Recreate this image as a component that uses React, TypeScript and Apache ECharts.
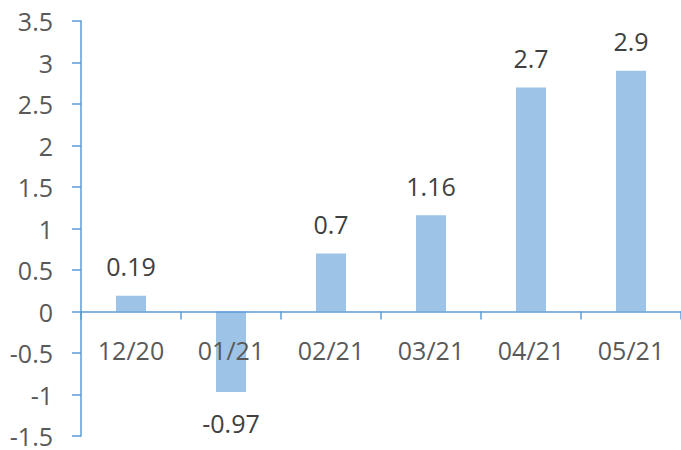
import React, { useEffect, useRef } from "react";
import * as echarts from "echarts";

const categories = ["12/20", "01/21", "02/21", "03/21", "04/21", "05/21"];
const values = [0.19, -0.97, 0.7, 1.16, 2.7, 2.9];
const yMin = -1.5;
const yMax = 3.5;
const yInterval = 0.5;

const GRID_TOP = 21;
const GRID_BOTTOM = 14;
const HEIGHT = 450;

export default function App() {
  const ref = useRef<HTMLDivElement>(null);
  useEffect(() => {
    document.body.style.margin = "0";
    const chart = echarts.init(ref.current!, null, { renderer: "svg" });
    const font = "'Open Sans', sans-serif";
    const plotH = HEIGHT - GRID_TOP - GRID_BOTTOM;
    // distance from grid bottom to zero line, derived from axis range
    const zeroFromBottom = ((0 - yMin) / (yMax - yMin)) * plotH;
    chart.setOption({
      animation: false,
      grid: { left: 81, right: 0, top: GRID_TOP, bottom: GRID_BOTTOM, containLabel: false, outerBoundsMode: "none" },
      xAxis: {
        type: "category",
        data: categories,
        offset: -zeroFromBottom,
        z: 10,
        axisLine: { onZero: false, lineStyle: { color: "#5B9BD5", width: 1.5 } },
        axisTick: { show: true, length: 8, alignWithLabel: false, lineStyle: { color: "#5B9BD5", width: 1.5 } },
        axisLabel: { color: "#595959", fontSize: 25, fontFamily: font, margin: 26 },
        splitLine: { show: false },
      },
      yAxis: {
        type: "value",
        min: yMin,
        max: yMax,
        interval: yInterval,
        axisLine: { show: true, lineStyle: { color: "#5B9BD5", width: 1.5 } },
        axisTick: { show: true, length: 9, lineStyle: { color: "#5B9BD5", width: 1.5 } },
        axisLabel: { color: "#595959", fontSize: 25, fontFamily: font, margin: 28 },
        splitLine: { show: false },
      },
      series: [
        {
          type: "bar",
          barWidth: 30,
          itemStyle: { color: "#9DC3E6" },
          data: values.map((v) => ({
            value: v,
            label: {
              show: true,
              position: v < 0 ? "bottom" : "top",
              distance: v < 0 ? 18 : 17,
              color: "#404040",
              fontSize: 25,
              fontFamily: font,
            },
          })),
        },
      ],
    });
    return () => chart.dispose();
  }, []);
  return <div ref={ref} style={{ width: 681, height: 450 }} />;
}
